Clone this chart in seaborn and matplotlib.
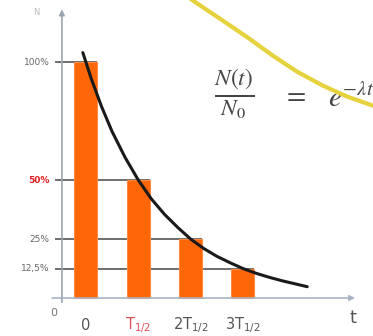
import matplotlib
matplotlib.use("Agg")
import matplotlib.pyplot as plt
import seaborn as sns
import pandas as pd

# bars: remaining fraction after n half-lives
bar_labels = ["0", r"T$_{1/2}$", r"2T$_{1/2}$", r"3T$_{1/2}$"]
bar_label_colors = ["#555555", "#e0505a", "#555555", "#555555"]
bar_values = [100, 50, 25, 12.5]

ytick_values = [100, 50, 25, 12.5]
ytick_labels = ["100%", "50%", "25%", "12,5%"]
ytick_colors = ["#666666", "#e02020", "#666666", "#666666"]

# decay curve (t in half-lives, %)
curve_t = [-0.06, 0.10, 0.30, 0.50, 0.75, 1.00, 1.25, 1.50, 1.75, 2.00,
           2.25, 2.50, 2.75, 3.00, 3.25, 3.50, 3.75, 4.00, 4.23]
curve_p = [104.0, 93.0, 81.0, 70.5, 59.5, 50.0, 42.0, 35.5, 30.0, 25.0,
           21.0, 17.7, 15.0, 12.5, 10.5, 8.8, 7.3, 6.0, 4.8]

# yellow arc in the upper right corner
arc_t = [1.85, 2.25, 2.62, 3.08, 3.58, 4.03, 4.53, 4.99, 5.55]
arc_p = [129.0, 123.0, 117.5, 110.6, 102.6, 96.0, 90.0, 85.4, 81.0]

sns.set_style("white")
fig = plt.figure(figsize=(3.73, 3.36), dpi=100)
ax = fig.add_axes([0, 0, 1, 1])

bars = pd.DataFrame({"label": bar_labels, "value": bar_values})
pos = list(range(len(bar_values)))

# guide lines behind bars
ax.hlines(bar_values, -0.6, [p + 0.22 for p in pos], color="#555555", lw=1.2, zorder=0)

sns.barplot(data=bars, x="label", y="value", order=bar_labels, color="#ff6608",
            saturation=1, width=0.44, ax=ax, zorder=2, edgecolor="#ff8a40", linewidth=0.8)

sns.lineplot(x=curve_t, y=curve_p, color="#1a1a1a", lw=2.2, ax=ax, sort=False, zorder=3)
sns.lineplot(x=arc_t, y=arc_p, color="#e6d23c", lw=3.0, ax=ax, sort=False, zorder=5)

ax.set_xlim(-1.644, 5.488)
ax.set_ylim(-16.1, 126.3)
ax.axis("off")

# axes with arrows
ax.annotate("", xy=(-0.46, 123.5), xytext=(-0.46, -3),
            arrowprops=dict(arrowstyle="-|>", color="#9aa4b0", lw=1.2, mutation_scale=8))
ax.annotate("", xy=(5.2, 0), xytext=(-0.7, 0),
            arrowprops=dict(arrowstyle="-|>", color="#a8b4c4", lw=1.2, mutation_scale=8))

for v, lab, c in zip(ytick_values, ytick_labels, ytick_colors):
    ax.text(-0.70, v, lab, ha="right", va="center", fontsize=6.5,
            color=c, fontweight="bold" if c != "#666666" else "normal")

for p, lab, c in zip(pos, bar_labels, bar_label_colors):
    ax.text(p, -11.6, lab, ha="center", va="center", fontsize=10.5, color=c)

ax.text(-0.62, -6.5, "0", ha="center", va="center", fontsize=8, color="#777777")
ax.text(5.1, -8.5, "t", ha="center", va="center", fontsize=13, color="#555555")
ax.text(-0.95, 121, "N", ha="center", va="center", fontsize=6, color="#bbbbbb")

plt.rcParams["mathtext.fontset"] = "stix"
ax.text(2.45, 86.5, r"$\frac{N(t)}{N_0}$", ha="left", va="center",
        fontsize=24, color="#444444", zorder=4)
ax.text(3.98, 86.5, r"$=$", ha="center", va="center", fontsize=20, color="#444444", zorder=4)
ax.text(4.62, 84.5, r"$e^{-\lambda t}$", ha="left", va="center",
        fontsize=21, color="#444444", zorder=4)

fig.savefig("out.png", dpi=100)
